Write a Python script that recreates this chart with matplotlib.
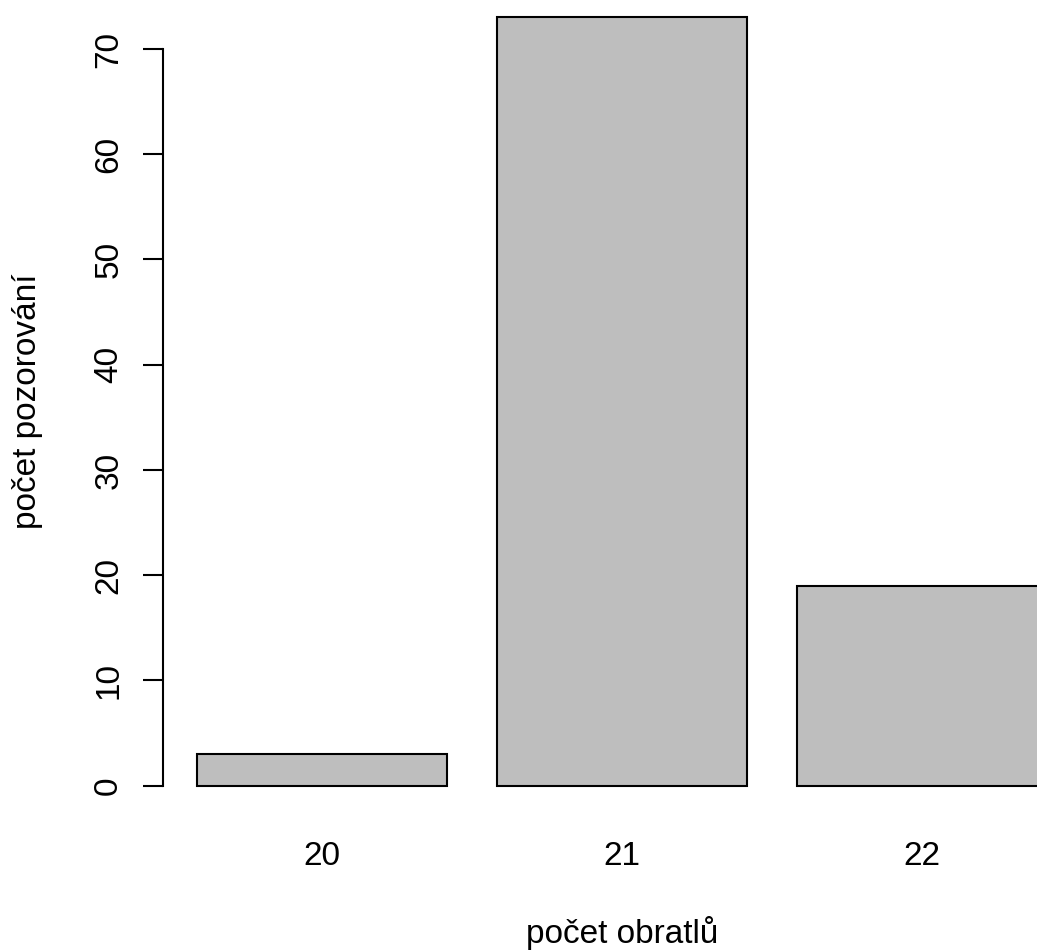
import matplotlib
matplotlib.use('Agg')
import matplotlib.pyplot as plt

plt.rcParams['font.family'] = ['Liberation Sans', 'DejaVu Sans']

# counts of vertebrae
categories = ['20', '21', '22']
counts = [3, 73, 19]

# barplot-like geometry: width 1, space 0.2
width = 1.0
space = 0.2
centers = [space + width / 2 + i * (width + space) for i in range(len(counts))]
left_edge = centers[0] - width / 2
right_edge = centers[-1] + width / 2
pad_x = 0.04 * (right_edge - left_edge)
ymax = max(counts)

W, H = 1037, 951
fig = plt.figure(figsize=(W / 100, H / 100), dpi=100)

# plot region in pixels (it runs past the top and right edges)
x0, x1 = 163, 1081
y_bot, y_top = 816.4, -13.3
ax = fig.add_axes([x0 / W, (H - y_bot) / H, (x1 - x0) / W, (y_bot - y_top) / H])

ax.bar(centers, counts, width=width, color='#BEBEBE', edgecolor='black', linewidth=1.5)

ax.set_xlim(left_edge - pad_x, right_edge + pad_x)
ax.set_ylim(-0.04 * ymax, 1.04 * ymax)

for side in ['top', 'right', 'bottom']:
    ax.spines[side].set_visible(False)
ax.spines['left'].set_bounds(0, 70)
ax.spines['left'].set_linewidth(1.5)

yt = list(range(0, 71, 10))
ax.set_yticks(yt)
ax.set_yticklabels([str(v) for v in yt], rotation=90, va='center', fontsize=24)
ax.tick_params(axis='y', length=14.4, width=1.5, pad=13.5)

ax.set_xticks(centers)
ax.set_xticklabels(categories, fontsize=24)
ax.tick_params(axis='x', length=0, pad=18)

ax.set_xlabel('počet obratlů', fontsize=24)
ax.xaxis.set_label_coords(0.5, (y_bot - 916) / (y_bot - y_top))
ax.set_ylabel('počet pozorování', fontsize=24)
ax.yaxis.set_label_coords((43 - x0) / (x1 - x0), (y_bot - 401) / (y_bot - y_top))

fig.savefig('out.png', dpi=100)
